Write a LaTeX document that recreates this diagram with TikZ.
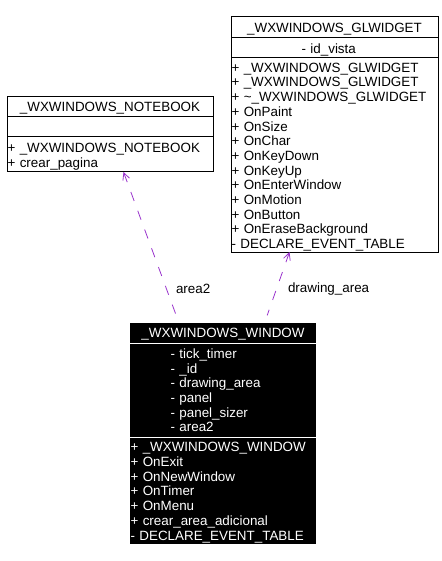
\documentclass[tikz,border=0pt]{standalone}
\usepackage{fontspec}
\setmainfont{Liberation Sans}
\usetikzlibrary{positioning,arrows.meta}
\definecolor{deppurple}{RGB}{153,51,204}

\begin{document}
\begin{tikzpicture}[
    x=1pt, y=-1pt,
    every node/.style={font=\fontsize{13.4pt}{14.7pt}\selectfont, outer sep=0pt, inner ysep=0pt, inner xsep=0.5pt},
    part/.style={draw, line width=1pt, align=left},
    title/.style={part, align=center, minimum height=20pt, text depth=0pt},
    attrs/.style={text depth=0pt},
    ops/.style={text height=13.5pt},
    darkpart/.style={fill=black, text=white, align=left},
    darktitle/.style={darkpart, align=center, minimum height=20pt, text depth=0pt},
    dep/.style={deppurple, line width=0.8pt, dash pattern=on 9.5pt off 10.5pt,
        {Straight Barb[length=7pt,width=7pt]}-, shorten >=8pt},
    deplabel/.style={text=black}
]
    \useasboundingbox (0,0) rectangle (441,561);

    % notebook class
    \node[title, text width=205pt, anchor=north west] (nbtitle) at (7,97) {\_WXWINDOWS\_NOTEBOOK};
    \node[part, text width=205pt, minimum height=20pt, below=0pt of nbtitle] (nbattr) {};
    \node[part, ops, text width=205pt, minimum height=35pt, below=0pt of nbattr] (nbops)
        {+ \_WXWINDOWS\_NOTEBOOK\\+ crear\_pagina};

    % glwidget class
    \node[title, text width=206pt, minimum height=21pt, anchor=north west] (gltitle) at (231,17) {\_WXWINDOWS\_GLWIDGET};
    \node[part, attrs, text width=206pt, minimum height=20pt, below=0pt of gltitle] (glattr)
        {\begin{tabular}[b]{@{\hspace*{70pt}}l@{}}- id\_vista\end{tabular}};
    \node[part, ops, text width=206pt, minimum height=194pt, below=0pt of glattr] (glops)
        {+ \_WXWINDOWS\_GLWIDGET\\+ \_WXWINDOWS\_GLWIDGET\\+ \textasciitilde\_WXWINDOWS\_GLWIDGET\\
         + OnPaint\\+ OnSize\\+ OnChar\\+ OnKeyDown\\+ OnKeyUp\\+ OnEnterWindow\\
         + OnMotion\\+ OnButton\\+ OnEraseBackground\\- DECLARE\_EVENT\_TABLE};

    % window class
    \node[darktitle, text width=185pt, anchor=north west] (wtitle) at (130,323) {\_WXWINDOWS\_WINDOW};
    \node[darkpart, attrs, text width=185pt, minimum height=94pt, below=0pt of wtitle] (wattr)
        {\begin{tabular}[b]{@{\hspace*{40pt}}l@{}}- tick\_timer\\- \_id\\- drawing\_area\\- panel\\- panel\_sizer\\- area2\end{tabular}};
    \node[darkpart, ops, text width=185pt, minimum height=107pt, below=0pt of wattr] (wops)
        {+ \_WXWINDOWS\_WINDOW\\+ OnExit\\+ OnNewWindow\\+ OnTimer\\+ OnMenu\\+ crear\_area\_adicional\\- DECLARE\_EVENT\_TABLE};
    \draw[white, line width=1pt] (wtitle.south west) -- (wtitle.south east);
    \draw[white, line width=1pt] (wattr.south west) -- (wattr.south east);

    % dependencies
    \draw[dep] ([xshift=13.5pt]nbops.south) -- node[deplabel, pos=0.775, right=9pt] {area2} ([xshift=-44pt]wtitle.north);
    \draw[dep] ([xshift=-45pt]glops.south) -- node[deplabel, pos=0.52, right=11pt] {drawing\_area} ([xshift=41.5pt]wtitle.north);
\end{tikzpicture}
\end{document}
